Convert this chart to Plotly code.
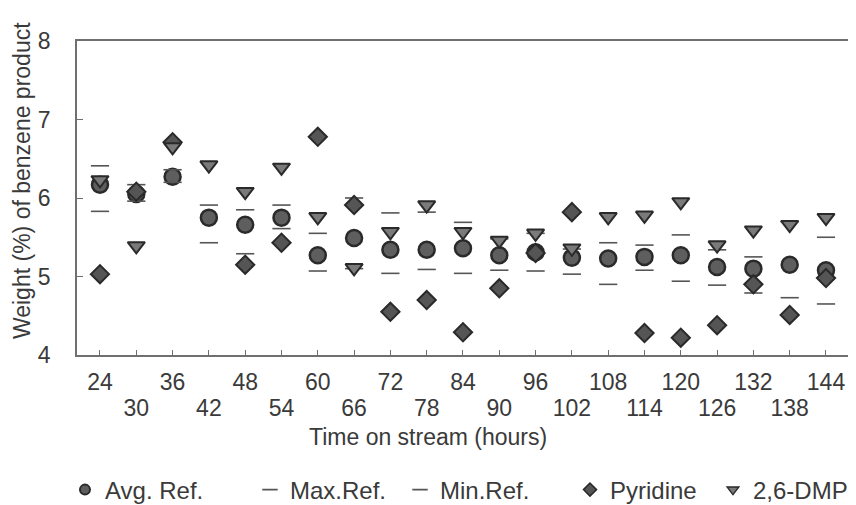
import plotly.graph_objects as go

hours = [24, 30, 36, 42, 48, 54, 60, 66, 72, 78, 84, 90, 96, 102, 108, 114, 120, 126, 132, 138, 144]
avg_ref = [6.17, 6.05, 6.27, 5.75, 5.66, 5.75, 5.27, 5.49, 5.34, 5.34, 5.36, 5.27, 5.31, 5.24, 5.23, 5.25, 5.27, 5.12, 5.10, 5.15, 5.08]
max_ref = [6.41, 6.17, 6.36, 5.91, 5.85, 5.91, 5.55, 6.00, 5.81, 5.82, 5.69, 5.48, 5.55, 5.35, 5.43, 5.40, 5.53, 5.34, 5.25, 5.70, 5.50]
min_ref = [5.83, 5.96, 6.20, 5.43, 5.29, 5.61, 5.07, 5.10, 5.04, 5.09, 5.04, 5.08, 5.07, 5.03, 4.90, 5.08, 4.94, 4.89, 4.79, 4.73, 4.65]
pyridine = [5.03, 6.08, 6.71, None, 5.15, 5.43, 6.78, 5.91, 4.55, 4.70, 4.29, 4.85, 5.30, 5.82, None, 4.28, 4.22, 4.38, 4.90, 4.51, 4.98]
dmp = [6.23, 5.39, 6.65, 6.42, 6.08, 6.39, 5.76, 5.11, 5.57, 5.91, 5.57, 5.46, 5.55, 5.36, 5.76, 5.78, 5.95, 5.40, 5.59, 5.66, 5.75]

ticks_row1 = hours[0::2]   # 24, 36, ..., 144
ticks_row2 = hours[1::2]   # 30, 42, ..., 138
y_ticks = [4, 5, 6, 7, 8]

FONT = "Liberation Sans, Arial, sans-serif"
TXT = "#3a3a3a"
AX = "#707070"
FS = 23
LFS = 24
XRANGE = [20.2, 148.3]

series = [
    ("Avg. Ref.", avg_ref, dict(symbol="circle", size=16, color="#5e5e5e", line=dict(color="#2a2a2a", width=2.5)),
     dict(symbol="circle", size=10, color="#5e5e5e", line=dict(color="#2a2a2a", width=2)), -0.0155),
    ("Max.Ref.", max_ref, dict(symbol="line-ew", size=13, color="#555555", line=dict(color="#555555", width=1.6)),
     dict(symbol="line-ew", size=11, color="#555555", line=dict(color="#555555", width=1.6)), 0.2232),
    ("Min.Ref.", min_ref, dict(symbol="line-ew", size=13, color="#555555", line=dict(color="#555555", width=1.6)),
     dict(symbol="line-ew", size=11, color="#555555", line=dict(color="#555555", width=1.6)), 0.4168),
    ("Pyridine", pyridine, dict(symbol="diamond", size=14, color="#555555", line=dict(color="#2a2a2a", width=2)),
     dict(symbol="diamond", size=10, color="#555555", line=dict(color="#2a2a2a", width=1.5)), 0.6361),
    ("2,6-DMP", dmp, dict(symbol="triangle-down", size=15, color="#7a7a7a", line=dict(color="#2a2a2a", width=2)),
     dict(symbol="triangle-down", size=10, color="#7a7a7a", line=dict(color="#2a2a2a", width=1.5)), 0.8206),
]

fig = go.Figure()
for name, vals, mk, legmk, lx in series:
    fig.add_trace(go.Scatter(x=hours, y=vals, mode="markers", name=name,
                             marker=mk, showlegend=False))
legend_layout = {}
for i, (name, vals, mk, legmk, lx) in enumerate(series):
    key = "legend" if i == 0 else f"legend{i + 1}"
    fig.add_trace(go.Scatter(x=[None], y=[None], mode="markers", name=name,
                             marker=legmk, showlegend=True, legend=key))
    legend_layout[key] = dict(x=lx, xanchor="left", y=-0.43, yanchor="middle",
                              orientation="h", itemwidth=30,
                              font=dict(size=LFS, color=TXT),
                              bgcolor="rgba(0,0,0,0)")
# invisible trace carrying the second tick row axis
fig.add_trace(go.Scatter(x=[None], y=[None], xaxis="x2", yaxis="y",
                         mode="markers", showlegend=False, hoverinfo="skip"))

# page body has an 8px margin, so figure is shifted; compensate size and margins
fig.update_layout(
    width=848, height=497,
    margin=dict(l=69, r=4, t=33, b=150, autoexpand=False),
    paper_bgcolor="white", plot_bgcolor="white",
    font=dict(family=FONT, size=FS, color=TXT),
    showlegend=True,
    annotations=[
        dict(text="Weight (%) of benzene product", xref="paper", yref="paper",
             x=-0.071, y=0.557, xanchor="center", yanchor="middle", textangle=-90,
             showarrow=False, font=dict(size=FS, color=TXT)),
        dict(text="Time on stream (hours)", xref="paper", yref="paper",
             x=0.453, y=-0.261, xanchor="center", yanchor="middle",
             showarrow=False, font=dict(size=FS, color=TXT)),
    ],
    xaxis=dict(
        range=XRANGE, tickmode="array", tickvals=ticks_row1,
        ticktext=[str(v) for v in ticks_row1], tickangle=0,
        ticks="inside", ticklen=5, tickcolor=AX, tickwidth=1,
        showline=True, linecolor=AX, linewidth=1.5, mirror=True,
        showgrid=False, zeroline=False, automargin=False, ticklabelstandoff=6,
        tickfont=dict(size=FS, color=TXT),
    ),
    xaxis2=dict(
        range=XRANGE, overlaying="x", anchor="y", side="bottom",
        tickmode="array", tickvals=ticks_row2,
        ticktext=[str(v) for v in ticks_row2], tickangle=0,
        ticks="inside", ticklen=5, tickcolor=AX, tickwidth=1,
        showline=False, showgrid=False, zeroline=False, automargin=False,
        ticklabelstandoff=37, tickfont=dict(size=FS, color=TXT),
    ),
    yaxis=dict(
        range=[4, 8], tickmode="array", tickvals=y_ticks,
        ticktext=[str(v) for v in y_ticks],
        ticks="inside", ticklen=6, tickcolor=AX, tickwidth=1,
        showline=True, linecolor=AX, linewidth=1.5, mirror=True,
        showgrid=False, zeroline=False, automargin=False, ticklabelstandoff=20,
        tickfont=dict(size=FS, color=TXT),
    ),
    **legend_layout,
)

fig.write_html("out.html")
